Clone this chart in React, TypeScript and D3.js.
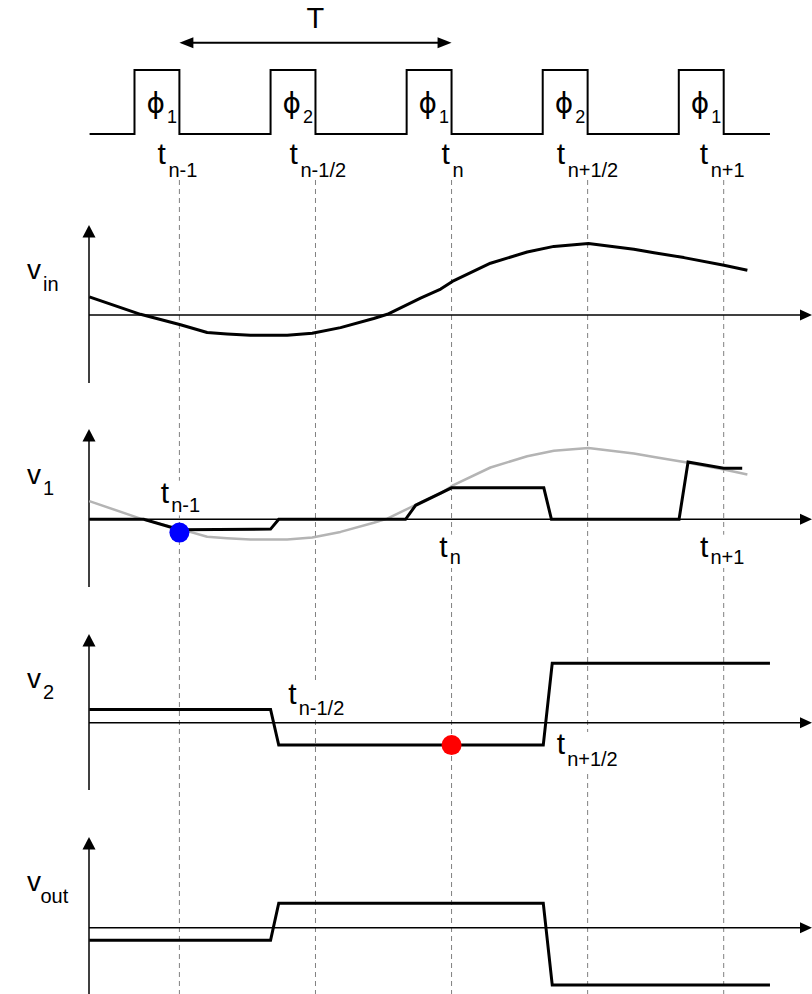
import React from "react";
import * as d3 from "d3";

const W = 812;
const H = 994;

// Time in units of the clock period T (t_{n-1} = 0)
const sampleTimes = [0, 0.5, 1, 1.5, 2];
const sampleSubs = ["n-1", "n-1/2", "n", "n+1/2", "n+1"];
const phaseSubs = ["1", "2", "1", "2", "1"];
const pulseWidth = 0.165;
const clockStart = -0.33;
const clockEnd = 2.17;

// v_in (also drawn grey in v1 panel)
const vinT = [-0.331, -0.143, 0.004, 0.102, 0.175, 0.261, 0.396, 0.488, 0.592, 0.714, 0.764, 0.886, 0.96, 1.003, 1.143, 1.278, 1.376, 1.503, 1.67, 1.744, 1.854, 2.001, 2.087];
const vinV = [0.26, 0.01, -0.14, -0.25, -0.27, -0.29, -0.29, -0.26, -0.18, -0.05, 0.01, 0.24, 0.37, 0.48, 0.74, 0.9, 0.98, 1.02, 0.94, 0.89, 0.82, 0.71, 0.64];

// v1
const v1T = [-0.331, -0.131, 0.0, 0.335, 0.365, 0.831, 0.868, 1.0, 1.339, 1.367, 1.836, 1.869, 2.0, 2.068];
const v1V = [0, 0, -0.15, -0.14, 0, 0, 0.2, 0.45, 0.45, 0, 0, 0.82, 0.73, 0.73];

// v2
const v2T = [-0.331, 0.335, 0.365, 1.337, 1.37, 2.17];
const v2V = [0.19, 0.19, -0.32, -0.32, 0.85, 0.85];

// vout
const voutT = [-0.331, 0.335, 0.365, 1.337, 1.37, 2.17];
const voutV = [-0.18, -0.18, 0.35, 0.35, -0.82, -0.82];

// sample markers
const dotPanel = [1, 2];
const dotT = [0, 1];
const dotV = [-0.19, -0.32];
const dotColor = ["#0000ff", "#ff0000"];

const panelSubs = ["in", "1", "2", "out"];

// labels of sample instants inside the v1 / v2 panels
const v1LabelIdx = [0, 2, 4];
const v2LabelIdx = [1, 3];

const FONT = "'Liberation Sans', Arial, Helvetica, sans-serif";
const PHI_FONT = "'DejaVu Sans', 'Liberation Sans', sans-serif";

export default function App() {
  const x = d3.scaleLinear().domain([0, 2]).range([179.4, 723.7]);
  const yClock = d3.scaleLinear().domain([0, 1]).range([134, 70]);

  const panels = [
    { tip: 225, zero: 315, bottom: 383, vBase: 279.3, subX: 43, subBase: 290.7 },
    { tip: 429, zero: 519.3, bottom: 587, vBase: 484, subX: 43, subBase: 495 },
    { tip: 634, zero: 722.7, bottom: 790, vBase: 688, subX: 43, subBase: 698.5 },
    { tip: 837, zero: 927.7, bottom: 994, vBase: 890.7, subX: 40.5, subBase: 902.7 },
  ];
  const yS = panels.map((p) => d3.scaleLinear().domain([0, 1]).range([p.zero, p.zero - 70]));

  const clockPts: [number, number][] = [[clockStart, 0]];
  sampleTimes.forEach((s) => {
    clockPts.push([s - pulseWidth, 0], [s - pulseWidth, 1], [s, 1], [s, 0]);
  });
  clockPts.push([clockEnd, 0]);
  const clockPath = d3
    .line<[number, number]>()
    .x((d) => x(d[0]))
    .y((d) => yClock(d[1]))(clockPts);

  const mkLine = (ts: number[], vs: number[], ys: d3.ScaleLinear<number, number>) =>
    d3
      .line<number>()
      .x((_, i) => x(ts[i]))
      .y((_, i) => ys(vs[i]))(vs) as string;

  const vinPath = mkLine(vinT, vinV, yS[0]);
  const vinGrey = mkLine(vinT, vinV, yS[1]);
  const v1Path = mkLine(v1T, v1V, yS[1]);
  const v2Path = mkLine(v2T, v2V, yS[2]);
  const voutPath = mkLine(voutT, voutV, yS[3]);

  const axisX0 = 89;
  const axisX1 = 812;

  const topDx = [-22, -26, -10, -31, -24];
  const v1Dx = [-18.7, -12.4, -23.7];
  const v1Base = [502.7, 556.7, 556.7];
  const v1SubBase = [511.5, 564, 564];
  const v2Dx = [-27.3, -31];
  const v2Base = [704, 754];
  const v2SubBase = [715, 766];

  const tLabel = (key: string, tx: number, base: number, sub: string, subBase: number) => {
    const subW = sub.length * 10.5;
    return (
      <g key={key}>
        <rect x={tx - 1} y={base - 22} width={12 + subW} height={subBase - base + 26} fill="#fff" />
        <text x={tx} y={base} fontSize={30} fontFamily={FONT} fill="#000">t</text>
        <text x={tx + 10.5} y={subBase} fontSize={20} fontFamily={FONT} fill="#000">{sub}</text>
      </g>
    );
  };

  return (
    <svg
      width={W}
      height={H}
      viewBox={`0 0 ${W} ${H}`}
      style={{ position: "absolute", left: 0, top: 0, background: "#fff" }}
    >
      <rect x={0} y={0} width={W} height={H} fill="#fff" />

      {/* dashed sample lines */}
      {sampleTimes.map((s, i) => (
        <line
          key={"d" + i}
          x1={x(s)}
          x2={x(s)}
          y1={180}
          y2={H}
          stroke="#808080"
          strokeWidth={1}
          strokeDasharray="5,4"
        />
      ))}

      {/* clock */}
      <path d={clockPath || ""} fill="none" stroke="#000" strokeWidth={2} />
      {sampleTimes.map((s, i) => (
        <g key={"ph" + i}>
          <text x={x(s) - 33} y={113} fontSize={28} fontFamily={PHI_FONT} fill="#000">ϕ</text>
          <text x={x(s) - 12.5} y={123} fontSize={18} fontFamily={FONT} fill="#000">{phaseSubs[i]}</text>
        </g>
      ))}
      {sampleTimes.map((s, i) => (
        <g key={"tl" + i}>
          <text x={x(s) + topDx[i]} y={164} fontSize={30} fontFamily={FONT} fill="#000">t</text>
          <text x={x(s) + topDx[i] + 11} y={177} fontSize={20} fontFamily={FONT} fill="#000">{sampleSubs[i]}</text>
        </g>
      ))}

      {/* period arrow */}
      <line x1={x(0) + 12} x2={x(1) - 12} y1={42.7} y2={42.7} stroke="#000" strokeWidth={2} />
      <path d={`M${x(0)},42.7 L${x(0) + 14},37.2 L${x(0) + 14},48.2 Z`} fill="#000" />
      <path d={`M${x(1)},42.7 L${x(1) - 14},37.2 L${x(1) - 14},48.2 Z`} fill="#000" />
      <text x={(x(0) + x(1)) / 2} y={28} fontSize={29} fontFamily={FONT} textAnchor="middle" fill="#000">T</text>

      {/* label backgrounds + labels inside panels */}
      {v1LabelIdx.map((idx, k) =>
        tLabel("v1l" + k, x(sampleTimes[idx]) + v1Dx[k], v1Base[k], sampleSubs[idx], v1SubBase[k])
      )}
      {v2LabelIdx.map((idx, k) =>
        tLabel("v2l" + k, x(sampleTimes[idx]) + v2Dx[k], v2Base[k], sampleSubs[idx], v2SubBase[k])
      )}

      {/* axes */}
      {panels.map((p, i) => (
        <g key={"ax" + i}>
          <line x1={axisX0} x2={axisX0} y1={p.tip + 8} y2={p.bottom} stroke="#000" strokeWidth={1.5} />
          <path d={`M${axisX0},${p.tip} L${axisX0 - 6.5},${p.tip + 12.5} L${axisX0 + 6.5},${p.tip + 12.5} Z`} fill="#000" />
          <line x1={axisX0} x2={axisX1 - 8} y1={p.zero} y2={p.zero} stroke="#000" strokeWidth={1.5} />
          <path d={`M${axisX1},${p.zero} L${axisX1 - 12},${p.zero - 5.5} L${axisX1 - 12},${p.zero + 5.5} Z`} fill="#000" />
          <text x={27} y={p.vBase} fontSize={28} fontFamily={FONT} fill="#000">v</text>
          <text x={p.subX} y={p.subBase} fontSize={20} fontFamily={FONT} fill="#000">{panelSubs[i]}</text>
        </g>
      ))}

      {/* signals */}
      <path d={vinPath} fill="none" stroke="#000" strokeWidth={3} strokeLinejoin="round" />
      <path d={vinGrey} fill="none" stroke="#b4b4b4" strokeWidth={2.5} strokeLinejoin="round" />
      <path d={v1Path} fill="none" stroke="#000" strokeWidth={3} strokeLinejoin="miter" />
      <path d={v2Path} fill="none" stroke="#000" strokeWidth={3} strokeLinejoin="miter" />
      <path d={voutPath} fill="none" stroke="#000" strokeWidth={3} strokeLinejoin="miter" />

      {dotT.map((t, i) => (
        <circle key={"dot" + i} cx={x(t)} cy={yS[dotPanel[i]](dotV[i])} r={10} fill={dotColor[i]} />
      ))}
    </svg>
  );
}
